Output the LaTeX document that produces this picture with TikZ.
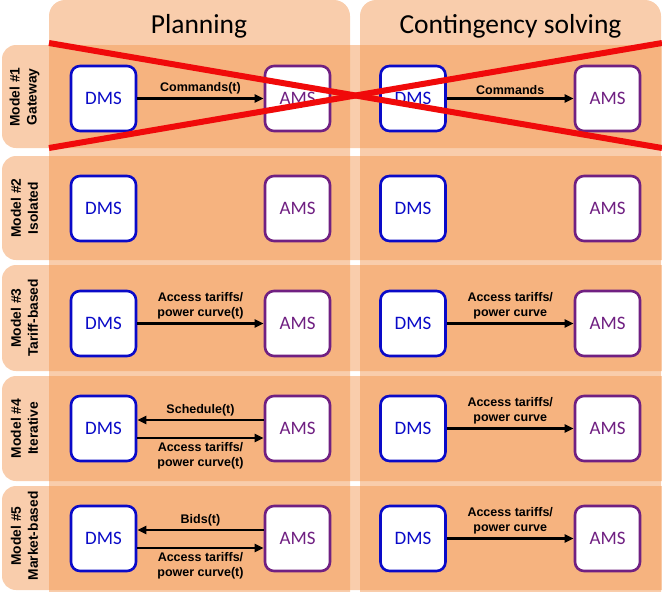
\documentclass[tikz,border=0pt]{standalone}
\usepackage{fontspec}
\setmainfont{Carlito}
\newfontfamily\arialfont{Liberation Sans}
\usetikzlibrary{positioning, arrows.meta}
\definecolor{stripclr}{RGB}{242,149,78}
\definecolor{dmsclr}{RGB}{10,10,200}
\definecolor{amsclr}{RGB}{112,32,130}
\definecolor{crossclr}{RGB}{240,10,10}

\begin{document}
\begin{tikzpicture}[x=1pt, y=-1pt,
    strip/.style={fill=stripclr, fill opacity=0.47, draw=none},
    msbox/.style={line width=2.6pt, rounded corners=9pt, fill=white, minimum size=65pt, inner sep=0pt, font=\fontsize{19}{21}\selectfont},
    dmsbox/.style={msbox, draw=dmsclr, text=dmsclr},
    amsbox/.style={msbox, draw=amsclr, text=amsclr},
    head/.style={font=\fontsize{27.5}{30}\selectfont, anchor=base},
    rowlbl/.style={rotate=90, align=center, font=\arialfont\bfseries\fontsize{13.8}{17}\selectfont},
    lbl/.style={align=center, inner sep=3pt, font=\arialfont\bfseries\fontsize{12.5}{15.5}\selectfont},
    flow/.style={line width=2.2pt, -{Triangle[length=9pt, width=8pt]}},
    cross/.style={crossclr, line width=6pt}]
  \useasboundingbox (0,0) rectangle (662,592);

  % column strips
  \fill[strip, rounded corners=16pt] (49,620) rectangle (350,0);
  \fill[strip, rounded corners=16pt] (360,620) rectangle (661,0);
  \node[head] (plan) at (199,33) {Planning};
  \node[head] (cont) at (510.5,33) {Contingency solving};

  % row strips
  \foreach \top/\bot in {45/148, 156/260, 265/371, 376/481, 486/590}
    \fill[strip, rounded corners=14pt] (2,\top) rectangle (690,\bot);

  \foreach \r/\yc/\kind in {1/97/Gateway, 2/208/Isolated, 3/318/Tariff-based, 4/428.5/Iterative, 5/536/Market-based}
    \node[rowlbl] (lab\r) at (24.5,\yc) {Model \#\r\\\kind};

  % DMS / AMS boxes
  \foreach \r/\yc in {1/98.5, 2/208.5, 3/323.5, 4/428.5, 5/538.5}{
    \node[dmsbox] (dmsP\r) at (103.5,\yc) {DMS};
    \node[amsbox] (amsP\r) at (297.5,\yc) {AMS};
    \node[dmsbox] (dmsC\r) at (413,\yc) {DMS};
    \node[amsbox] (amsC\r) at (607.5,\yc) {AMS};
  }

  % planning
  \draw[flow] (dmsP1) -- node[lbl, above] {Commands(t)} (amsP1);
  \draw[flow] (dmsP3) -- node[lbl, above] {Access tariffs/\\power curve(t)} (amsP3);
  \draw[flow] ([yshift=8.5pt]amsP4.west) -- node[lbl, above] {Schedule(t)} ([yshift=8.5pt]dmsP4.east);
  \draw[flow] ([yshift=-9.5pt]dmsP4.east) -- node[lbl, below] {Access tariffs/\\power curve(t)} ([yshift=-9.5pt]amsP4.west);
  \draw[flow] ([yshift=8.5pt]amsP5.west) -- node[lbl, above] {Bids(t)} ([yshift=8.5pt]dmsP5.east);
  \draw[flow] ([yshift=-9.5pt]dmsP5.east) -- node[lbl, below] {Access tariffs/\\power curve(t)} ([yshift=-9.5pt]amsP5.west);

  % contingency solving
  \draw[flow] (dmsC1) -- node[lbl, above] {Commands} (amsC1);
  \foreach \r in {3,4,5}
    \draw[flow] (dmsC\r) -- node[lbl, above] {Access tariffs/\\power curve} (amsC\r);

  % model 1 is ruled out
  \coordinate (xa) at (49,43);
  \coordinate (xb) at (662,148);
  \coordinate (xc) at (49,148);
  \coordinate (xd) at (662,43);
  \draw[cross] (xa) -- (xb);
  \draw[cross] (xc) -- (xd);
\end{tikzpicture}
\end{document}
